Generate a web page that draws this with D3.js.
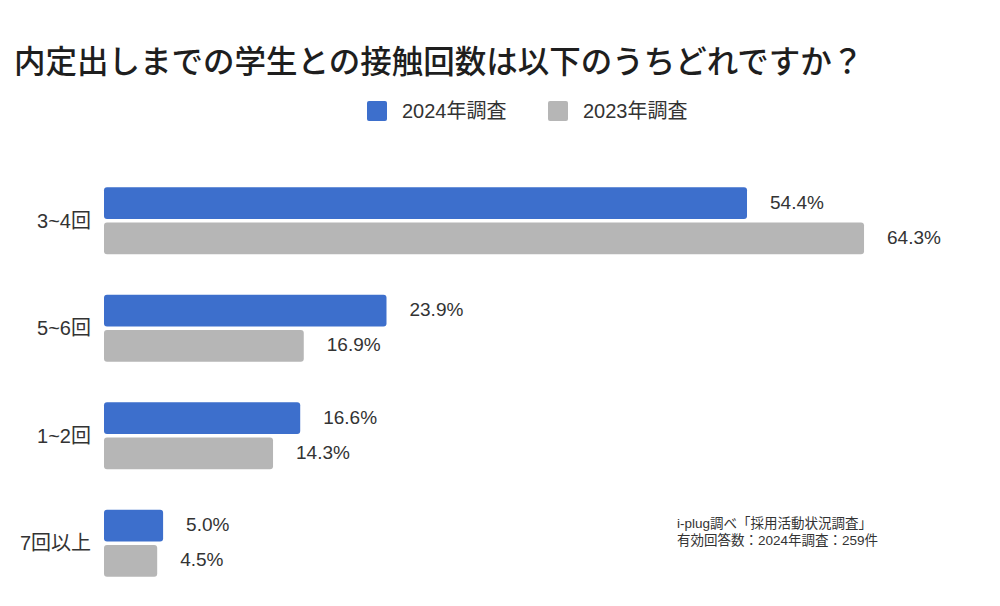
<!DOCTYPE html>
<html><head><meta charset="utf-8">
<script src="https://cdn.jsdelivr.net/npm/d3@7"></script>
<style>
html,body{margin:0;padding:0;background:#fff;}
text{font-family:"Liberation Sans",Arial,"Noto Sans CJK JP",sans-serif;}
</style></head>
<body><svg id="chart" width="1000" height="606"></svg>
<script>
const titleText = "内定出しまでの学生との接触回数は以下のうちどれですか？";
const categories = ["3~4回", "5~6回", "1~2回", "7回以上"];
const seriesNames = ["2024年調査", "2023年調査"];
const values2024 = [54.4, 23.9, 16.6, 5.0];
const values2023 = [64.3, 16.9, 14.3, 4.5];
const sourceLines = ["i-plug調べ「採用活動状況調査」", "有効回答数：2024年調査：259件"];
const colors = ["#3d6fcc", "#b6b6b6"];

const svg = d3.select("#chart");
const seriesValues = [values2024, values2023];

const x = d3.scaleLinear().domain([0, 70]).range([104, 104 + 70 * 11.82]);
const pi = 0.377;
const y = d3.scaleBand().domain(categories).range([167, 597]).paddingInner(pi).paddingOuter(pi / 2);
const ys = d3.scaleBand().domain(seriesNames).range([0, y.bandwidth()]).paddingInner(0.1);

// title
svg.append("text").attr("x", 14).attr("y", 73)
  .attr("font-size", 31.5).attr("font-weight", 500).attr("fill", "#1e1e1e")
  .style("font-family", "'Noto Sans CJK JP',sans-serif")
  .text(titleText);

// legend
const legendX = [367, 548];
seriesNames.forEach((s, i) => {
  svg.append("rect").attr("x", legendX[i]).attr("y", 101).attr("width", 20).attr("height", 20)
    .attr("rx", 2).attr("fill", colors[i]);
  svg.append("text").attr("x", legendX[i] + 35).attr("y", 111)
    .attr("dominant-baseline", "central").attr("font-size", 20).attr("fill", "#333")
    .text(s);
});

// bars
const groups = svg.selectAll("g.cat").data(categories).join("g")
  .attr("class", "cat").attr("transform", d => `translate(0,${y(d)})`);

groups.each(function(cat, ci) {
  const g = d3.select(this);
  seriesNames.forEach((s, si) => {
    const v = seriesValues[si][ci];
    g.append("rect").attr("x", x(0)).attr("y", ys(s))
      .attr("width", x(v) - x(0)).attr("height", ys.bandwidth())
      .attr("rx", 3).attr("fill", colors[si]);
    g.append("text").attr("x", x(v) + 23).attr("y", ys(s) + ys.bandwidth() / 2 - 1)
      .attr("dominant-baseline", "central").attr("font-size", 19).attr("fill", "#333")
      .text(v.toFixed(1) + "%");
  });
  g.append("text").attr("x", 91).attr("y", y.bandwidth() / 2)
    .attr("text-anchor", "end").attr("dominant-baseline", "central")
    .attr("font-size", 20).attr("fill", "#333").text(cat);
});

// source
sourceLines.forEach((t, i) => {
  svg.append("text").attr("x", 677).attr("y", 528 + i * 17)
    .attr("font-size", 13.5).attr("fill", "#333").text(t);
});
</script></body></html>
